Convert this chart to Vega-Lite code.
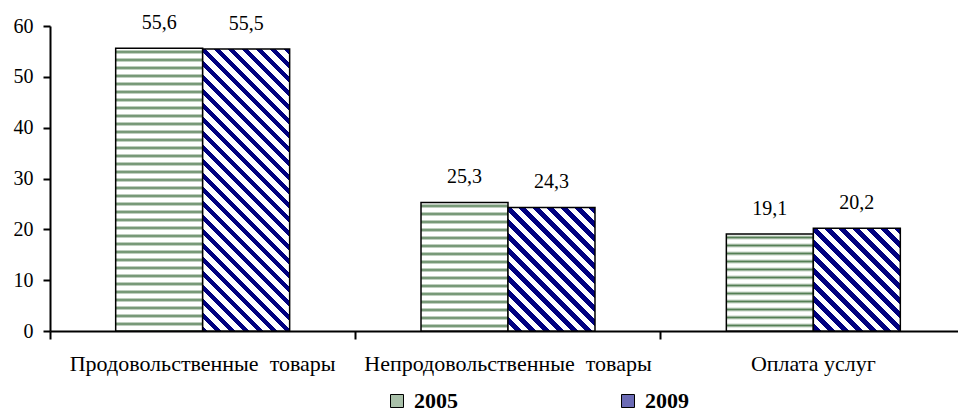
{
"$schema": "https://vega.github.io/schema/vega-lite/v6.json",
"autosize": {"type": "none"},
"width": 908,
"height": 305,
"padding": {"left": 50, "top": 26, "right": 0, "bottom": 83},
"background": "white",
"data": {"values": [
{"cat": "Продовольственные товары", "year": "2005", "value": 55.6},
{"cat": "Продовольственные товары", "year": "2009", "value": 55.5},
{"cat": "Непродовольственные товары", "year": "2005", "value": 25.3},
{"cat": "Непродовольственные товары", "year": "2009", "value": 24.3},
{"cat": "Оплата услуг", "year": "2005", "value": 19.1},
{"cat": "Оплата услуг", "year": "2009", "value": 20.2}
]},
"encoding": {
"x": {"field": "cat", "type": "nominal", "sort": ["Продовольственные товары", "Непродовольственные товары", "Оплата услуг"],
"scale": {"type": "band", "paddingInner": 0, "paddingOuter": 0, "range": [0, 916]},
"axis": {"title": null, "labelAngle": 0, "labelLimit": 0, "bandPosition": 0, "tickSize": 8, "labelPadding": 14, "labelFontSize": 22,
"labelExpr": "replace(datum.label, ' товары', '\u00a0 товары')"}},
"xOffset": {"field": "year", "type": "nominal", "scale": {"paddingInner": 0, "paddingOuter": 0.755}},
"y": {"field": "value", "type": "quantitative", "scale": {"domain": [0, 60], "nice": false},
"axis": {"title": null, "values": [0, 10, 20, 30, 40, 50, 60], "tickSize": 7, "labelPadding": 10, "labelFontSize": 20, "grid": false}}
},
"layer": [
{"mark": {"type": "bar"},
"encoding": {"fill": {"field": "year", "type": "nominal",
"scale": {"domain": ["2005", "2009"], "range": ["#a9c0a9", "#6b6bb5"]},
"legend": {"title": null, "orient": "none", "legendX": 336, "legendY": 364, "direction": "horizontal", "symbolType": "square", "symbolSize": 169,
"labelFontSize": 22, "labelFontWeight": "bold", "labelFont": "Liberation Serif, Times New Roman, serif", "labelColor": "black", "labelOffset": 6, "columnPadding": 159, "padding": 0,
"symbolStrokeColor": "black", "symbolStrokeWidth": 1}}}},
{"mark": {"type": "bar", "stroke": "black", "strokeWidth": 1.5},
"encoding": {"fill": {"condition": [
{"test": "datum.year === '2009' && datum.cat === 'Продовольственные товары'", "value": {"gradient": "linear", "x1": 1, "y1": 0, "x2": 0.441, "y2": 1.8127, "stops": [
{"offset":0,"color":"navy"},{"offset":0.012,"color":"navy"},{"offset":0.012,"color":"#fff"},{"offset":0.025,"color":"#fff"},
{"offset":0.025,"color":"navy"},{"offset":0.037,"color":"navy"},{"offset":0.037,"color":"#fff"},{"offset":0.05,"color":"#fff"},
{"offset":0.05,"color":"navy"},{"offset":0.062,"color":"navy"},{"offset":0.062,"color":"#fff"},{"offset":0.075,"color":"#fff"},
{"offset":0.075,"color":"navy"},{"offset":0.087,"color":"navy"},{"offset":0.087,"color":"#fff"},{"offset":0.1,"color":"#fff"},
{"offset":0.1,"color":"navy"},{"offset":0.112,"color":"navy"},{"offset":0.112,"color":"#fff"},{"offset":0.125,"color":"#fff"},
{"offset":0.125,"color":"navy"},{"offset":0.137,"color":"navy"},{"offset":0.137,"color":"#fff"},{"offset":0.15,"color":"#fff"},
{"offset":0.15,"color":"navy"},{"offset":0.162,"color":"navy"},{"offset":0.162,"color":"#fff"},{"offset":0.175,"color":"#fff"},
{"offset":0.175,"color":"navy"},{"offset":0.187,"color":"navy"},{"offset":0.187,"color":"#fff"},{"offset":0.2,"color":"#fff"},
{"offset":0.2,"color":"navy"},{"offset":0.212,"color":"navy"},{"offset":0.212,"color":"#fff"},{"offset":0.225,"color":"#fff"},
{"offset":0.225,"color":"navy"},{"offset":0.237,"color":"navy"},{"offset":0.237,"color":"#fff"},{"offset":0.25,"color":"#fff"},
{"offset":0.25,"color":"navy"},{"offset":0.262,"color":"navy"},{"offset":0.262,"color":"#fff"},{"offset":0.275,"color":"#fff"},
{"offset":0.275,"color":"navy"},{"offset":0.287,"color":"navy"},{"offset":0.287,"color":"#fff"},{"offset":0.3,"color":"#fff"},
{"offset":0.3,"color":"navy"},{"offset":0.312,"color":"navy"},{"offset":0.312,"color":"#fff"},{"offset":0.325,"color":"#fff"},
{"offset":0.325,"color":"navy"},{"offset":0.337,"color":"navy"},{"offset":0.337,"color":"#fff"},{"offset":0.35,"color":"#fff"},
{"offset":0.35,"color":"navy"},{"offset":0.362,"color":"navy"},{"offset":0.362,"color":"#fff"},{"offset":0.375,"color":"#fff"},
{"offset":0.375,"color":"navy"},{"offset":0.387,"color":"navy"},{"offset":0.387,"color":"#fff"},{"offset":0.4,"color":"#fff"},
{"offset":0.4,"color":"navy"},{"offset":0.412,"color":"navy"},{"offset":0.412,"color":"#fff"},{"offset":0.425,"color":"#fff"},
{"offset":0.425,"color":"navy"},{"offset":0.437,"color":"navy"},{"offset":0.437,"color":"#fff"},{"offset":0.45,"color":"#fff"},
{"offset":0.45,"color":"navy"},{"offset":0.462,"color":"navy"},{"offset":0.462,"color":"#fff"},{"offset":0.475,"color":"#fff"},
{"offset":0.475,"color":"navy"},{"offset":0.487,"color":"navy"},{"offset":0.487,"color":"#fff"},{"offset":0.5,"color":"#fff"},
{"offset":0.5,"color":"navy"},{"offset":0.512,"color":"navy"},{"offset":0.512,"color":"#fff"},{"offset":0.525,"color":"#fff"},
{"offset":0.525,"color":"navy"},{"offset":0.537,"color":"navy"},{"offset":0.537,"color":"#fff"},{"offset":0.55,"color":"#fff"},
{"offset":0.55,"color":"navy"},{"offset":0.562,"color":"navy"},{"offset":0.562,"color":"#fff"},{"offset":0.575,"color":"#fff"},
{"offset":0.575,"color":"navy"},{"offset":0.587,"color":"navy"},{"offset":0.587,"color":"#fff"},{"offset":0.6,"color":"#fff"},
{"offset":0.6,"color":"navy"},{"offset":0.612,"color":"navy"},{"offset":0.612,"color":"#fff"},{"offset":0.625,"color":"#fff"},
{"offset":0.625,"color":"navy"},{"offset":0.637,"color":"navy"},{"offset":0.637,"color":"#fff"},{"offset":0.65,"color":"#fff"},
{"offset":0.65,"color":"navy"},{"offset":0.662,"color":"navy"},{"offset":0.662,"color":"#fff"}
]}},
{"test": "datum.year === '2009' && datum.cat === 'Непродовольственные товары'", "value": {"gradient": "linear", "x1": 1, "y1": 0, "x2": -1.1348, "y2": 3.0303, "stops": [
{"offset":0,"color":"navy"},{"offset":0.012,"color":"navy"},{"offset":0.012,"color":"#fff"},{"offset":0.025,"color":"#fff"},
{"offset":0.025,"color":"navy"},{"offset":0.037,"color":"navy"},{"offset":0.037,"color":"#fff"},{"offset":0.05,"color":"#fff"},
{"offset":0.05,"color":"navy"},{"offset":0.062,"color":"navy"},{"offset":0.062,"color":"#fff"},{"offset":0.075,"color":"#fff"},
{"offset":0.075,"color":"navy"},{"offset":0.087,"color":"navy"},{"offset":0.087,"color":"#fff"},{"offset":0.1,"color":"#fff"},
{"offset":0.1,"color":"navy"},{"offset":0.112,"color":"navy"},{"offset":0.112,"color":"#fff"},{"offset":0.125,"color":"#fff"},
{"offset":0.125,"color":"navy"},{"offset":0.137,"color":"navy"},{"offset":0.137,"color":"#fff"},{"offset":0.15,"color":"#fff"},
{"offset":0.15,"color":"navy"},{"offset":0.162,"color":"navy"},{"offset":0.162,"color":"#fff"},{"offset":0.175,"color":"#fff"},
{"offset":0.175,"color":"navy"},{"offset":0.187,"color":"navy"},{"offset":0.187,"color":"#fff"},{"offset":0.2,"color":"#fff"},
{"offset":0.2,"color":"navy"},{"offset":0.212,"color":"navy"},{"offset":0.212,"color":"#fff"},{"offset":0.225,"color":"#fff"},
{"offset":0.225,"color":"navy"},{"offset":0.237,"color":"navy"},{"offset":0.237,"color":"#fff"},{"offset":0.25,"color":"#fff"},
{"offset":0.25,"color":"navy"},{"offset":0.262,"color":"navy"},{"offset":0.262,"color":"#fff"},{"offset":0.275,"color":"#fff"},
{"offset":0.275,"color":"navy"},{"offset":0.287,"color":"navy"},{"offset":0.287,"color":"#fff"},{"offset":0.3,"color":"#fff"},
{"offset":0.3,"color":"navy"},{"offset":0.312,"color":"navy"},{"offset":0.312,"color":"#fff"},{"offset":0.325,"color":"#fff"},
{"offset":0.325,"color":"navy"},{"offset":0.337,"color":"navy"},{"offset":0.337,"color":"#fff"},{"offset":0.35,"color":"#fff"},
{"offset":0.35,"color":"navy"},{"offset":0.362,"color":"navy"},{"offset":0.362,"color":"#fff"},{"offset":0.375,"color":"#fff"},
{"offset":0.375,"color":"navy"},{"offset":0.387,"color":"navy"},{"offset":0.387,"color":"#fff"}
]}},
{"test": "datum.year === '2009'", "value": {"gradient": "linear", "x1": 1, "y1": 0, "x2": -1.6889, "y2": 3.1742, "stops": [
{"offset":0,"color":"navy"},{"offset":0.012,"color":"navy"},{"offset":0.012,"color":"#fff"},{"offset":0.025,"color":"#fff"},
{"offset":0.025,"color":"navy"},{"offset":0.037,"color":"navy"},{"offset":0.037,"color":"#fff"},{"offset":0.05,"color":"#fff"},
{"offset":0.05,"color":"navy"},{"offset":0.062,"color":"navy"},{"offset":0.062,"color":"#fff"},{"offset":0.075,"color":"#fff"},
{"offset":0.075,"color":"navy"},{"offset":0.087,"color":"navy"},{"offset":0.087,"color":"#fff"},{"offset":0.1,"color":"#fff"},
{"offset":0.1,"color":"navy"},{"offset":0.112,"color":"navy"},{"offset":0.112,"color":"#fff"},{"offset":0.125,"color":"#fff"},
{"offset":0.125,"color":"navy"},{"offset":0.137,"color":"navy"},{"offset":0.137,"color":"#fff"},{"offset":0.15,"color":"#fff"},
{"offset":0.15,"color":"navy"},{"offset":0.162,"color":"navy"},{"offset":0.162,"color":"#fff"},{"offset":0.175,"color":"#fff"},
{"offset":0.175,"color":"navy"},{"offset":0.187,"color":"navy"},{"offset":0.187,"color":"#fff"},{"offset":0.2,"color":"#fff"},
{"offset":0.2,"color":"navy"},{"offset":0.212,"color":"navy"},{"offset":0.212,"color":"#fff"},{"offset":0.225,"color":"#fff"},
{"offset":0.225,"color":"navy"},{"offset":0.237,"color":"navy"},{"offset":0.237,"color":"#fff"},{"offset":0.25,"color":"#fff"},
{"offset":0.25,"color":"navy"},{"offset":0.262,"color":"navy"},{"offset":0.262,"color":"#fff"},{"offset":0.275,"color":"#fff"},
{"offset":0.275,"color":"navy"},{"offset":0.287,"color":"navy"},{"offset":0.287,"color":"#fff"},{"offset":0.3,"color":"#fff"},
{"offset":0.3,"color":"navy"},{"offset":0.312,"color":"navy"},{"offset":0.312,"color":"#fff"},{"offset":0.325,"color":"#fff"},
{"offset":0.325,"color":"navy"},{"offset":0.337,"color":"navy"},{"offset":0.337,"color":"#fff"}
]}},
{"test": "datum.cat === 'Продовольственные товары'", "value": {"gradient": "linear", "x1": 0, "y1": 0, "x2": 0, "y2": 1.4154, "stops": [
{"offset":0.003,"color":"#fff"},{"offset":0.009,"color":"#557f55"},{"offset":0.015,"color":"#fff"},
{"offset":0.023,"color":"#fff"},{"offset":0.029,"color":"#557f55"},{"offset":0.035,"color":"#fff"},
{"offset":0.043,"color":"#fff"},{"offset":0.049,"color":"#557f55"},{"offset":0.055,"color":"#fff"},
{"offset":0.063,"color":"#fff"},{"offset":0.069,"color":"#557f55"},{"offset":0.075,"color":"#fff"},
{"offset":0.083,"color":"#fff"},{"offset":0.089,"color":"#557f55"},{"offset":0.095,"color":"#fff"},
{"offset":0.103,"color":"#fff"},{"offset":0.109,"color":"#557f55"},{"offset":0.115,"color":"#fff"},
{"offset":0.123,"color":"#fff"},{"offset":0.129,"color":"#557f55"},{"offset":0.135,"color":"#fff"},
{"offset":0.143,"color":"#fff"},{"offset":0.149,"color":"#557f55"},{"offset":0.155,"color":"#fff"},
{"offset":0.163,"color":"#fff"},{"offset":0.169,"color":"#557f55"},{"offset":0.175,"color":"#fff"},
{"offset":0.183,"color":"#fff"},{"offset":0.189,"color":"#557f55"},{"offset":0.195,"color":"#fff"},
{"offset":0.203,"color":"#fff"},{"offset":0.209,"color":"#557f55"},{"offset":0.215,"color":"#fff"},
{"offset":0.223,"color":"#fff"},{"offset":0.229,"color":"#557f55"},{"offset":0.235,"color":"#fff"},
{"offset":0.243,"color":"#fff"},{"offset":0.249,"color":"#557f55"},{"offset":0.255,"color":"#fff"},
{"offset":0.263,"color":"#fff"},{"offset":0.269,"color":"#557f55"},{"offset":0.275,"color":"#fff"},
{"offset":0.283,"color":"#fff"},{"offset":0.289,"color":"#557f55"},{"offset":0.295,"color":"#fff"},
{"offset":0.303,"color":"#fff"},{"offset":0.309,"color":"#557f55"},{"offset":0.315,"color":"#fff"},
{"offset":0.323,"color":"#fff"},{"offset":0.329,"color":"#557f55"},{"offset":0.335,"color":"#fff"},
{"offset":0.343,"color":"#fff"},{"offset":0.349,"color":"#557f55"},{"offset":0.355,"color":"#fff"},
{"offset":0.363,"color":"#fff"},{"offset":0.369,"color":"#557f55"},{"offset":0.375,"color":"#fff"},
{"offset":0.383,"color":"#fff"},{"offset":0.389,"color":"#557f55"},{"offset":0.395,"color":"#fff"},
{"offset":0.403,"color":"#fff"},{"offset":0.409,"color":"#557f55"},{"offset":0.415,"color":"#fff"},
{"offset":0.423,"color":"#fff"},{"offset":0.429,"color":"#557f55"},{"offset":0.435,"color":"#fff"},
{"offset":0.443,"color":"#fff"},{"offset":0.449,"color":"#557f55"},{"offset":0.455,"color":"#fff"},
{"offset":0.463,"color":"#fff"},{"offset":0.469,"color":"#557f55"},{"offset":0.475,"color":"#fff"},
{"offset":0.483,"color":"#fff"},{"offset":0.489,"color":"#557f55"},{"offset":0.495,"color":"#fff"},
{"offset":0.503,"color":"#fff"},{"offset":0.509,"color":"#557f55"},{"offset":0.515,"color":"#fff"},
{"offset":0.523,"color":"#fff"},{"offset":0.529,"color":"#557f55"},{"offset":0.535,"color":"#fff"},
{"offset":0.543,"color":"#fff"},{"offset":0.549,"color":"#557f55"},{"offset":0.555,"color":"#fff"},
{"offset":0.563,"color":"#fff"},{"offset":0.569,"color":"#557f55"},{"offset":0.575,"color":"#fff"},
{"offset":0.583,"color":"#fff"},{"offset":0.589,"color":"#557f55"},{"offset":0.595,"color":"#fff"},
{"offset":0.603,"color":"#fff"},{"offset":0.609,"color":"#557f55"},{"offset":0.615,"color":"#fff"},
{"offset":0.623,"color":"#fff"},{"offset":0.629,"color":"#557f55"},{"offset":0.635,"color":"#fff"},
{"offset":0.643,"color":"#fff"},{"offset":0.649,"color":"#557f55"},{"offset":0.655,"color":"#fff"},
{"offset":0.663,"color":"#fff"},{"offset":0.669,"color":"#557f55"},{"offset":0.675,"color":"#fff"},
{"offset":0.683,"color":"#fff"},{"offset":0.689,"color":"#557f55"},{"offset":0.695,"color":"#fff"},
{"offset":0.703,"color":"#fff"},{"offset":0.709,"color":"#557f55"},{"offset":0.715,"color":"#fff"}
]}},
{"test": "datum.cat === 'Непродовольственные товары'", "value": {"gradient": "linear", "x1": 0, "y1": 0, "x2": 0, "y2": 3.11, "stops": [
{"offset":0.003,"color":"#fff"},{"offset":0.009,"color":"#557f55"},{"offset":0.015,"color":"#fff"},
{"offset":0.023,"color":"#fff"},{"offset":0.029,"color":"#557f55"},{"offset":0.035,"color":"#fff"},
{"offset":0.043,"color":"#fff"},{"offset":0.049,"color":"#557f55"},{"offset":0.055,"color":"#fff"},
{"offset":0.063,"color":"#fff"},{"offset":0.069,"color":"#557f55"},{"offset":0.075,"color":"#fff"},
{"offset":0.083,"color":"#fff"},{"offset":0.089,"color":"#557f55"},{"offset":0.095,"color":"#fff"},
{"offset":0.103,"color":"#fff"},{"offset":0.109,"color":"#557f55"},{"offset":0.115,"color":"#fff"},
{"offset":0.123,"color":"#fff"},{"offset":0.129,"color":"#557f55"},{"offset":0.135,"color":"#fff"},
{"offset":0.143,"color":"#fff"},{"offset":0.149,"color":"#557f55"},{"offset":0.155,"color":"#fff"},
{"offset":0.163,"color":"#fff"},{"offset":0.169,"color":"#557f55"},{"offset":0.175,"color":"#fff"},
{"offset":0.183,"color":"#fff"},{"offset":0.189,"color":"#557f55"},{"offset":0.195,"color":"#fff"},
{"offset":0.203,"color":"#fff"},{"offset":0.209,"color":"#557f55"},{"offset":0.215,"color":"#fff"},
{"offset":0.223,"color":"#fff"},{"offset":0.229,"color":"#557f55"},{"offset":0.235,"color":"#fff"},
{"offset":0.243,"color":"#fff"},{"offset":0.249,"color":"#557f55"},{"offset":0.255,"color":"#fff"},
{"offset":0.263,"color":"#fff"},{"offset":0.269,"color":"#557f55"},{"offset":0.275,"color":"#fff"},
{"offset":0.283,"color":"#fff"},{"offset":0.289,"color":"#557f55"},{"offset":0.295,"color":"#fff"},
{"offset":0.303,"color":"#fff"},{"offset":0.309,"color":"#557f55"},{"offset":0.315,"color":"#fff"},
{"offset":0.323,"color":"#fff"},{"offset":0.329,"color":"#557f55"},{"offset":0.335,"color":"#fff"}
]}}
],
"value": {"gradient": "linear", "x1": 0, "y1": 0, "x2": 0, "y2": 4.1195, "stops": [
{"offset":0.003,"color":"#fff"},{"offset":0.009,"color":"#557f55"},{"offset":0.015,"color":"#fff"},
{"offset":0.023,"color":"#fff"},{"offset":0.029,"color":"#557f55"},{"offset":0.035,"color":"#fff"},
{"offset":0.043,"color":"#fff"},{"offset":0.049,"color":"#557f55"},{"offset":0.055,"color":"#fff"},
{"offset":0.063,"color":"#fff"},{"offset":0.069,"color":"#557f55"},{"offset":0.075,"color":"#fff"},
{"offset":0.083,"color":"#fff"},{"offset":0.089,"color":"#557f55"},{"offset":0.095,"color":"#fff"},
{"offset":0.103,"color":"#fff"},{"offset":0.109,"color":"#557f55"},{"offset":0.115,"color":"#fff"},
{"offset":0.123,"color":"#fff"},{"offset":0.129,"color":"#557f55"},{"offset":0.135,"color":"#fff"},
{"offset":0.143,"color":"#fff"},{"offset":0.149,"color":"#557f55"},{"offset":0.155,"color":"#fff"},
{"offset":0.163,"color":"#fff"},{"offset":0.169,"color":"#557f55"},{"offset":0.175,"color":"#fff"},
{"offset":0.183,"color":"#fff"},{"offset":0.189,"color":"#557f55"},{"offset":0.195,"color":"#fff"},
{"offset":0.203,"color":"#fff"},{"offset":0.209,"color":"#557f55"},{"offset":0.215,"color":"#fff"},
{"offset":0.223,"color":"#fff"},{"offset":0.229,"color":"#557f55"},{"offset":0.235,"color":"#fff"},
{"offset":0.243,"color":"#fff"},{"offset":0.249,"color":"#557f55"},{"offset":0.255,"color":"#fff"}
]}}}},
{"mark": {"type": "text", "dy": -19, "baseline": "alphabetic", "fontSize": 20, "font": "Liberation Serif, Times New Roman, serif", "color": "black"},
"encoding": {"text": {"field": "value", "type": "quantitative", "format": ".1f"}}}
],
"config": {
"font": "Liberation Serif, Times New Roman, serif",
"locale": {"number": {"decimal": ",", "thousands": "\u00a0", "grouping": [3], "currency": ["", ""]}},
"view": {"stroke": null},
"axis": {"labelFont": "Liberation Serif, Times New Roman, serif", "labelColor": "black", "domainColor": "black", "tickColor": "black", "domainWidth": 2, "tickWidth": 2}
}
}
